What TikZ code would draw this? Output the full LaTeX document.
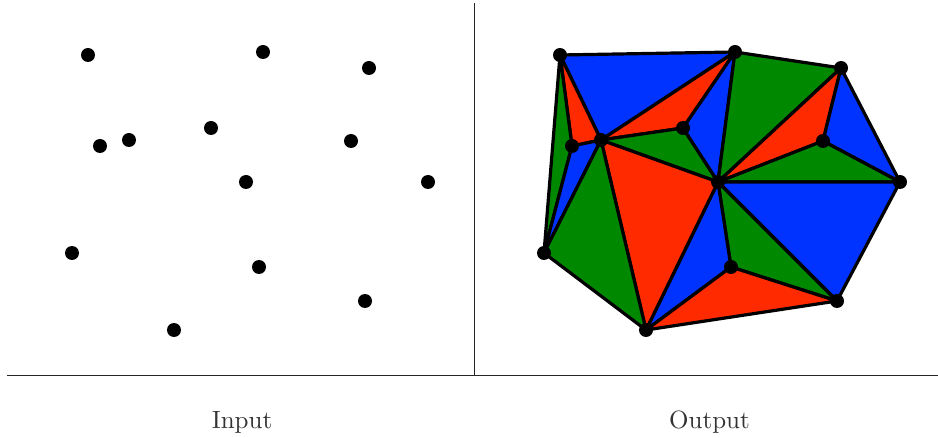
\documentclass[tikz,border=0pt]{standalone}
\usepackage{fontspec}
\newfontfamily\labfont{lmroman10-regular.otf}
\definecolor{tblue}{RGB}{0,51,255}
\definecolor{tred}{RGB}{255,42,0}
\definecolor{tgreen}{RGB}{0,136,0}
\begin{document}
\begin{tikzpicture}[x=1pt,y=-1pt,
  dot/.style={circle,fill=black,inner sep=0pt,minimum size=14pt},
  tri/.style={draw=black,line width=3.2pt,line join=round},
  frame/.style={draw=black!85,line width=1pt},
  lab/.style={font=\labfont\fontsize{25}{30}\selectfont,anchor=base,inner sep=0pt,text=black!80}]
\useasboundingbox (0,0) rectangle (938,438);
\foreach \n/\x/\y in {A/560/55,B/735/52,C/841/68,D/572/146,E/601/140,F/683/128,G/823/141,H/718/182,I/900/182,J/544/253,K/731/267,L/837/301,M/646/330}{
  \coordinate (o\n) at (\x,\y);
  \coordinate (i\n) at ({\x-472},\y);
}
% frame
\draw[frame] (474,3) -- (474,376);
\draw[frame] (7,376) -- (938,376);
% triangles
\foreach \a/\b/\c/\col in {A/B/E/tblue,A/E/D/tred,A/D/J/tgreen,D/E/J/tblue,E/B/F/tred,E/F/H/tgreen,F/B/H/tblue,B/C/H/tgreen,C/G/H/tred,C/I/G/tblue,G/I/H/tgreen,H/I/L/tblue,H/L/K/tgreen,H/K/M/tblue,K/L/M/tred,E/H/M/tred,E/M/J/tgreen}{
  \filldraw[tri,fill=\col] (o\a) -- (o\b) -- (o\c) -- cycle;
}
% dots
\foreach \n in {A,B,C,D,E,F,G,H,I,J,K,L,M}{
  \node[dot] (pi\n) at (i\n) {};
  \node[dot] (po\n) at (o\n) {};
}
\node[lab] (inlab) at (242,429) {Input};
\node[lab] (outlab) at (709.5,429) {Output};
\end{tikzpicture}
\end{document}
